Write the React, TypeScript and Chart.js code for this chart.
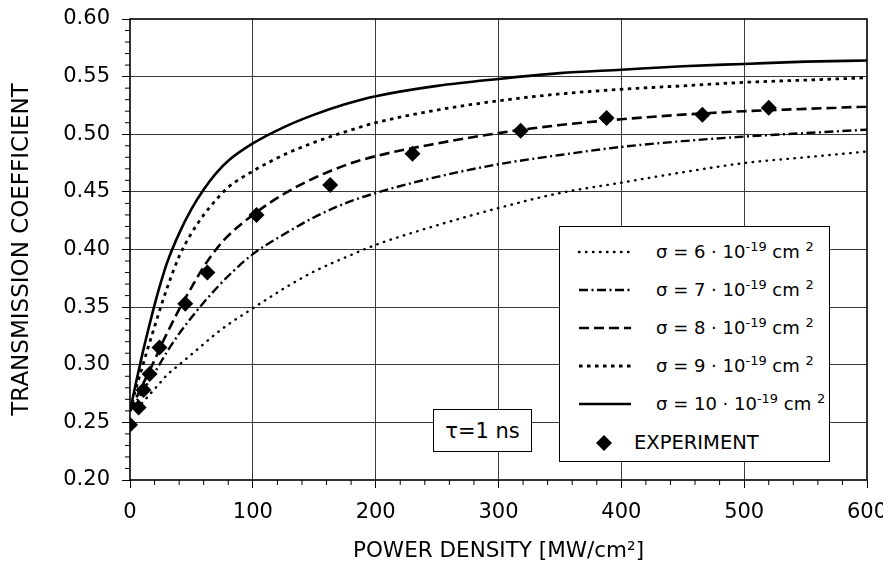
import React, { useEffect, useRef } from 'react';
import { Chart, registerables } from 'chart.js';

Chart.register(...registerables);

// ---- data ----
const powerDensity = [0, 5, 10, 15, 20, 25, 30, 40, 50, 60, 70, 80, 100, 125, 150, 175, 200, 250, 300, 350, 400, 450, 500, 550, 600];
const sigma6 = [0.260, 0.263, 0.267, 0.273, 0.279, 0.285, 0.291, 0.300, 0.309, 0.318, 0.327, 0.335, 0.349, 0.366, 0.381, 0.393, 0.404, 0.421, 0.436, 0.449, 0.458, 0.467, 0.475, 0.480, 0.485];
const sigma7 = [0.260, 0.268, 0.276, 0.285, 0.293, 0.302, 0.311, 0.327, 0.341, 0.354, 0.366, 0.377, 0.396, 0.413, 0.428, 0.440, 0.449, 0.463, 0.474, 0.482, 0.489, 0.494, 0.498, 0.501, 0.504];
const sigma8 = [0.260, 0.271, 0.282, 0.293, 0.304, 0.316, 0.327, 0.348, 0.367, 0.385, 0.400, 0.412, 0.430, 0.448, 0.462, 0.473, 0.481, 0.492, 0.501, 0.508, 0.513, 0.517, 0.520, 0.522, 0.524];
const sigma9 = [0.260, 0.280, 0.298, 0.316, 0.333, 0.350, 0.366, 0.394, 0.414, 0.430, 0.443, 0.454, 0.468, 0.482, 0.493, 0.502, 0.510, 0.521, 0.529, 0.535, 0.539, 0.542, 0.545, 0.547, 0.549];
const sigma10 = [0.260, 0.285, 0.309, 0.331, 0.352, 0.371, 0.388, 0.414, 0.435, 0.452, 0.466, 0.477, 0.492, 0.506, 0.517, 0.526, 0.533, 0.542, 0.548, 0.553, 0.556, 0.559, 0.561, 0.563, 0.564];

const expPower = [0, 7, 11, 16, 24, 45, 63, 103, 163, 230, 318, 388, 466, 520];
const expTransmission = [0.248, 0.263, 0.278, 0.292, 0.315, 0.353, 0.380, 0.430, 0.456, 0.483, 0.503, 0.514, 0.517, 0.523];

const sigmaLabels = ['6', '7', '8', '9', '10'];
const xTitle = 'POWER DENSITY [MW/cm\u00B2]';
const yTitle = 'TRANSMISSION COEFFICIENT';
const tauLabel = '\u03C4=1 ns';
const expLabel = 'EXPERIMENT';

const FONT = "'DejaVu Sans', 'Liberation Sans', Arial, sans-serif";

const curveStyles = [
  { dash: [0.5, 6.5], width: 2.4, cap: 'round' },
  { dash: [9, 3.5, 2, 3.5], width: 2.4, cap: 'butt' },
  { dash: [10, 5], width: 2.6, cap: 'butt' },
  { dash: [3.5, 4.5], width: 2.8, cap: 'butt' },
  { dash: [], width: 2.6, cap: 'butt' },
];

const curves = [sigma6, sigma7, sigma8, sigma9, sigma10];

const isMajorX = (v: number) => Math.round(v) % 100 === 0;
const isMajorY = (v: number) => Math.round(v * 100) % 5 === 0;

const decorPlugin = {
  id: 'decor',
  afterDatasetsDraw(chart: any) {
    const { ctx, chartArea, scales } = chart;
    const { left, top, right, bottom } = chartArea;
    ctx.save();
    ctx.strokeStyle = '#000';
    ctx.lineWidth = 1;
    ctx.beginPath();
    for (const t of scales.x.ticks) {
      if (isMajorX(t.value)) continue;
      const px = scales.x.getPixelForValue(t.value);
      ctx.moveTo(px, bottom);
      ctx.lineTo(px, bottom + 5);
    }
    for (const t of scales.y.ticks) {
      if (isMajorY(t.value)) continue;
      const py = scales.y.getPixelForValue(t.value);
      ctx.moveTo(left - 5, py);
      ctx.lineTo(left, py);
    }
    ctx.stroke();
    ctx.lineWidth = 1.6;
    ctx.strokeRect(left, top, right - left, bottom - top);
    ctx.restore();
  },
};

function ChartCanvas() {
  const ref = useRef<HTMLCanvasElement | null>(null);
  useEffect(() => {
    if (!ref.current) return;
    const datasets: any[] = curves.map((c, i) => ({
      label: 'sigma' + sigmaLabels[i],
      data: powerDensity.map((p, j) => ({ x: p, y: c[j] })),
      showLine: true,
      borderColor: '#000',
      backgroundColor: '#000',
      borderWidth: curveStyles[i].width,
      borderDash: curveStyles[i].dash,
      borderCapStyle: curveStyles[i].cap,
      pointRadius: 0,
      cubicInterpolationMode: 'monotone',
      fill: false,
    }));
    datasets.push({
      label: expLabel,
      data: expPower.map((p, j) => ({ x: p, y: expTransmission[j] })),
      showLine: false,
      pointStyle: 'rectRot',
      pointRadius: 8,
      pointBackgroundColor: '#000',
      pointBorderColor: '#000',
      pointBorderWidth: 0,
    });
    const chart = new Chart(ref.current, {
      type: 'scatter',
      data: { datasets },
      options: {
        animation: false,
        responsive: false,
        layout: { padding: { left: 0, top: 19, right: 16, bottom: 0 } },
        plugins: { legend: { display: false }, tooltip: { enabled: false } },
        scales: {
          x: {
            type: 'linear',
            min: 0,
            max: 600,
            afterFit: (s: any) => {
              s.height = 88;
              s.paddingLeft = 0;
              s.paddingRight = 0;
            },
            border: { display: false },
            grid: {
              color: (c: any) => {
                const v = c.tick ? c.tick.value : 0;
                return isMajorX(v) && v > 0 && v < 600 ? '#3a3a3a' : 'rgba(0,0,0,0)';
              },
              lineWidth: 1,
              tickLength: 8,
              tickColor: (c: any) => (c.tick && isMajorX(c.tick.value) ? '#000' : 'rgba(0,0,0,0)'),
            },
            ticks: {
              stepSize: 20,
              autoSkip: false,
              maxRotation: 0,
              padding: 12,
              color: '#000',
              font: { family: FONT, size: 21 },
              callback: (v: any) => (isMajorX(Number(v)) ? String(Math.round(Number(v))) : ''),
            },
            title: {
              display: true,
              text: xTitle,
              color: '#000',
              font: { family: FONT, size: 21.5 },
              padding: { top: 0, bottom: 4 },
            },
          },
          y: {
            type: 'linear',
            min: 0.2,
            max: 0.6,
            afterFit: (s: any) => {
              s.width = 130;
              s.paddingTop = 0;
              s.paddingBottom = 0;
            },
            border: { display: false },
            grid: {
              color: (c: any) => {
                const v = c.tick ? c.tick.value : 0;
                const k = Math.round(v * 100);
                return isMajorY(v) && k > 20 && k < 60 ? '#3a3a3a' : 'rgba(0,0,0,0)';
              },
              lineWidth: 1,
              tickLength: 8,
              tickColor: (c: any) => (c.tick && isMajorY(c.tick.value) ? '#000' : 'rgba(0,0,0,0)'),
            },
            ticks: {
              stepSize: 0.01,
              autoSkip: false,
              padding: 12,
              color: '#000',
              font: { family: FONT, size: 21 },
              callback: (v: any) => (isMajorY(Number(v)) ? Number(v).toFixed(2) : ''),
            },
            title: {
              display: true,
              text: yTitle,
              color: '#000',
              font: { family: FONT, size: 23 },
              padding: { top: 8, bottom: 0 },
            },
          },
        },
      } as any,
      plugins: [decorPlugin],
    });
    return () => chart.destroy();
  }, []);
  return <canvas ref={ref} width={883} height={568} style={{ position: 'absolute', left: 0, top: 0 }} />;
}

function Sup({ children }: { children: React.ReactNode }) {
  return <span style={{ fontSize: '0.72em', position: 'relative', top: '-0.55em' }}>{children}</span>;
}

function Legend() {
  const rowY = [25, 63, 101, 139, 177];
  return (
    <div
      style={{
        position: 'absolute',
        left: 559,
        top: 226,
        width: 269,
        height: 234,
        border: '1.5px solid #000',
        background: '#fff',
        fontFamily: FONT,
        color: '#000',
      }}
    >
      <svg width={269} height={234} style={{ position: 'absolute', left: 0, top: 0 }}>
        {sigmaLabels.map((_, i) => (
          <line
            key={i}
            x1={19}
            x2={71}
            y1={rowY[i]}
            y2={rowY[i]}
            stroke="#000"
            strokeWidth={curveStyles[i].width}
            strokeDasharray={curveStyles[i].dash.length ? curveStyles[i].dash.join(' ') : undefined}
            strokeLinecap={curveStyles[i].cap as any}
          />
        ))}
        <polygon points="44,208 52,216 44,224 36,216" fill="#000" />
      </svg>
      {sigmaLabels.map((s, i) => (
        <div
          key={s}
          style={{
            position: 'absolute',
            left: 96,
            top: rowY[i] - 13,
            height: 26,
            lineHeight: '26px',
            fontSize: 18,
            whiteSpace: 'nowrap',
          }}
        >
          {'\u03C3 = ' + s + ' \u00B7 10'}
          <Sup>-19</Sup>
          {' cm '}
          <Sup>2</Sup>
        </div>
      ))}
      <div
        style={{
          position: 'absolute',
          left: 74,
          top: 216 - 13,
          height: 26,
          lineHeight: '26px',
          fontSize: 19.5,
          whiteSpace: 'nowrap',
        }}
      >
        {expLabel}
      </div>
    </div>
  );
}

function TauBox() {
  return (
    <div
      style={{
        position: 'absolute',
        left: 433,
        top: 409,
        width: 97,
        height: 41,
        border: '1.5px solid #000',
        background: '#fff',
        fontFamily: FONT,
        fontSize: 21,
        color: '#000',
        display: 'flex',
        alignItems: 'center',
        justifyContent: 'center',
        whiteSpace: 'nowrap',
      }}
    >
      {tauLabel}
    </div>
  );
}

export default function App() {
  return (
    <div style={{ position: 'absolute', left: 0, top: 0, width: 883, height: 568, background: '#fff', overflow: 'hidden' }}>
      <ChartCanvas />
      <TauBox />
      <Legend />
    </div>
  );
}
